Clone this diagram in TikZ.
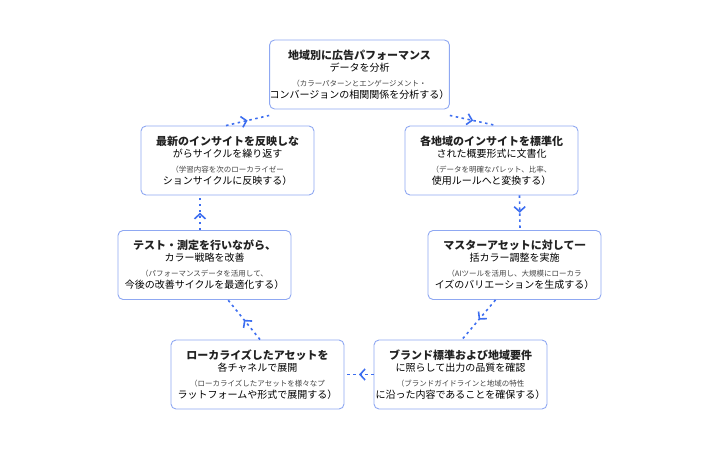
\documentclass[tikz,border=0pt]{standalone}
\usepackage{fontspec}
\setmainfont{Noto Sans CJK JP}
\usetikzlibrary{arrows.meta,decorations.markings}
\definecolor{bd}{HTML}{8FA8F2}
\definecolor{ar}{HTML}{3D6EF0}
\definecolor{tx}{HTML}{222222}
\definecolor{sb}{HTML}{444444}
\begin{document}
\begin{tikzpicture}[x=1pt,y=-1pt,
 box/.style={draw=bd,line width=0.9pt,rounded corners=5pt,minimum width=173pt,minimum height=69pt,fill=white,align=center,inner sep=0pt},
 con/.style={ar,line width=1.6pt,dash pattern=on 2.5pt off 3.5pt,postaction={decorate},
   decoration={markings,mark=at position 0.5 with {\arrow[ar,solid,line width=1.6pt]{Straight Barb[length=5pt,width=11pt]}}}}]
\useasboundingbox (0,0) rectangle (720,450);
\newcommand{\bx}[5]{\node[box] (#1) at (#2,#3) {\fontsize{11}{14}\selectfont\bfseries\color{tx}#4\\[3pt]\fontsize{7.5}{11}\selectfont\color{sb}#5};}
\bx{n1}{359.5}{74.5}{地域別に広告パフォーマンス\\データを分析}{（カラーパターンとエンゲージメント・\\コンバージョンの相関関係を分析する）}
\bx{n2}{491.5}{160.5}{各地域のインサイトを標準化\\された概要形式に文書化}{（データを明確なパレット、比率、\\使用ルールへと変換する）}
\bx{n3}{514.5}{265}{マスターアセットに対して一\\括カラー調整を実施}{（AIツールを活用し、大規模にローカラ\\イズのバリエーションを生成する）}
\bx{n4}{460.5}{374.5}{ブランド標準および地域要件\\に照らして出力の品質を確認}{（ブランドガイドラインと地域の特性\\に沿った内容であることを確保する）}
\bx{n5}{257.5}{374.5}{ローカライズしたアセットを\\各チャネルで展開}{（ローカライズしたアセットを様々なプ\\ラットフォームや形式で展開する）}
\bx{n6}{204.5}{265}{テスト・測定を行いながら、\\カラー戦略を改善}{（パフォーマンスデータを活用して、\\今後の改善サイクルを最適化する）}
\bx{n7}{227.5}{160.5}{最新のインサイトを反映しな\\がらサイクルを繰り返す}{（学習内容を次のローカライゼー\\ションサイクルに反映する）}
\draw[con] ([yshift=-6pt]n1.south east) -- ([xshift=5pt]n2.north);
\draw[con] ([xshift=28pt]n2.south) -- ([xshift=5.5pt]n3.north);
\draw[con] ([xshift=-19pt]n3.south) -- ([xshift=1.5pt]n4.north);
\draw[con] (n4.west) -- (n5.east);
\draw[con] ([xshift=2.5pt]n5.north) -- ([xshift=23.5pt]n6.south);
\draw[con] ([xshift=-4.5pt]n6.north) -- ([xshift=-27.5pt]n7.south);
\draw[con] ([xshift=-1.5pt]n7.north) -- ([yshift=-6pt]n1.south west);
\end{tikzpicture}
\end{document}
